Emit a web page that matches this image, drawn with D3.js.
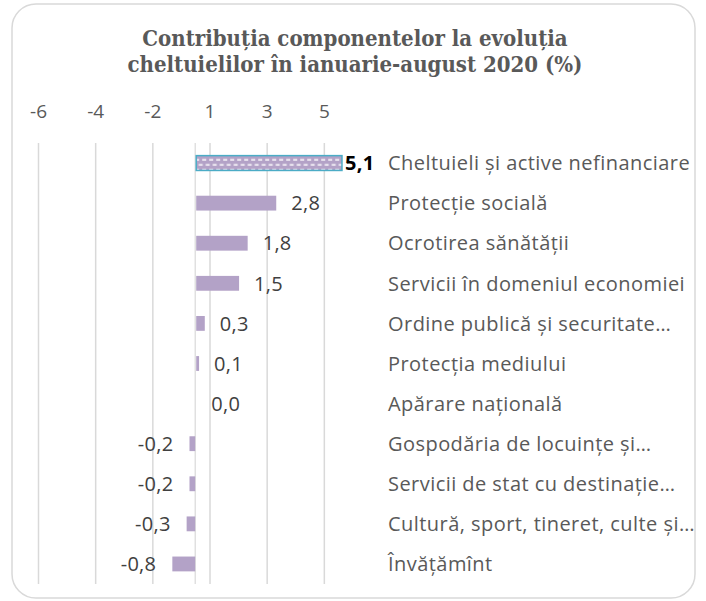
<!DOCTYPE html>
<html>
<head>
<meta charset="utf-8">
<script src="https://cdn.jsdelivr.net/npm/d3@7"></script>
<style>
  body { margin: 0; background: #fff; }
  svg { display: block; }
</style>
</head>
<body>
<svg id="chart" width="706" height="601"></svg>
<script>
// date
const categorii = [
  "Cheltuieli și active nefinanciare",
  "Protecție socială",
  "Ocrotirea sănătății",
  "Servicii în domeniul economiei",
  "Ordine publică și securitate…",
  "Protecția mediului",
  "Apărare națională",
  "Gospodăria de locuințe și…",
  "Servicii de stat cu destinație…",
  "Cultură, sport, tineret, culte și…",
  "Învățămînt"
];
const valori = [5.1, 2.8, 1.8, 1.5, 0.3, 0.1, 0.0, -0.2, -0.2, -0.3, -0.8];
const etichete = ["5,1", "2,8", "1,8", "1,5", "0,3", "0,1", "0,0", "-0,2", "-0,2", "-0,3", "-0,8"];
const tickValori = [-5.5, -3.5, -1.5, 0.5, 2.5, 4.5];
const tickEtichete = ["-6", "-4", "-2", "1", "3", "5"];
const titlu = ["Contribuția componentelor la evoluția", "cheltuielilor în ianuarie-august 2020 (%)"];

const svg = d3.select("#chart");
const font = "'Open Sans', sans-serif";

// chenar rotunjit
svg.append("rect")
  .attr("x", 12).attr("y", 4)
  .attr("width", 683).attr("height", 594)
  .attr("rx", 24).attr("ry", 24)
  .attr("fill", "#fff")
  .attr("stroke", "#d9d9d9")
  .attr("stroke-width", 1.5);

// titlu
svg.append("text")
  .attr("text-anchor", "middle")
  .attr("font-family", "'DejaVu Serif Condensed', 'DejaVu Serif', serif")
  .attr("font-stretch", "condensed")
  .attr("font-weight", "bold")
  .attr("font-size", 22)
  .attr("fill", "#595959")
  .selectAll("tspan")
  .data(titlu)
  .join("tspan")
  .attr("x", 355)
  .attr("y", (d, i) => 46 + i * 26)
  .text(d => d);

// scale
const x = d3.scaleLinear().domain([-5.5, 6.5]).range([38, 381]);
const y = d3.scaleBand().domain(categorii).range([143, 584])
  .paddingInner(0.63).paddingOuter(0.315);

// pattern pentru bara evidentiata
const y0 = y(categorii[0]);
const defs = svg.append("defs");
const pat = defs.append("pattern")
  .attr("id", "hasura")
  .attr("patternUnits", "userSpaceOnUse")
  .attr("width", 7).attr("height", 10)
  .attr("x", x(0)).attr("y", y0);
pat.append("rect").attr("width", 7).attr("height", 10).attr("fill", "#b3a2c7");
pat.append("rect").attr("x", 0).attr("y", 3.5).attr("width", 4).attr("height", 1.5).attr("fill", "#fff");
pat.append("rect").attr("x", 3.5).attr("y", 8.5).attr("width", 3.5).attr("height", 1.5).attr("fill", "#fff");
pat.append("rect").attr("x", 0).attr("y", 8.5).attr("width", 0.5).attr("height", 1.5).attr("fill", "#fff");

// axa de sus cu grila
const axa = svg.append("g")
  .attr("transform", "translate(0,143)")
  .call(d3.axisTop(x)
    .tickValues(tickValori)
    .tickFormat((d, i) => tickEtichete[i])
    .tickSize(-441)
    .tickPadding(25));
axa.select(".domain").remove();
axa.selectAll(".tick line")
  .attr("stroke", "#d9d9d9")
  .attr("stroke-width", 1.5);
axa.selectAll(".tick text")
  .attr("font-family", font)
  .attr("font-size", 19)
  .attr("fill", "#595959");

// linia de zero
svg.append("line")
  .attr("x1", x(0)).attr("x2", x(0))
  .attr("y1", 143).attr("y2", 584)
  .attr("stroke", "#d9d9d9")
  .attr("stroke-width", 1.2);

// bare
svg.append("g")
  .selectAll("rect")
  .data(valori)
  .join("rect")
  .attr("x", d => x(Math.min(0, d)) + (d > 0 ? 1 : 0))
  .attr("y", (d, i) => y(categorii[i]))
  .attr("width", d => Math.abs(x(d) - x(0)))
  .attr("height", y.bandwidth())
  .attr("fill", (d, i) => i === 0 ? "url(#hasura)" : "#b3a2c7")
  .attr("stroke", (d, i) => i === 0 ? "#4bacc6" : "none")
  .attr("stroke-width", 1.5);

// etichete valori
svg.append("g")
  .selectAll("text")
  .data(valori)
  .join("text")
  .attr("x", (d, i) => i === 0 ? x(d) + 4 : (d < 0 ? x(d) - 16 : x(d) + 16))
  .attr("y", (d, i) => y(categorii[i]) + y.bandwidth() / 2)
  .attr("dy", "0.36em")
  .attr("text-anchor", d => d < 0 ? "end" : "start")
  .attr("font-family", font)
  .attr("font-size", 20)
  .attr("letter-spacing", 0.3)
  .attr("font-weight", (d, i) => i === 0 ? "bold" : "normal")
  .attr("fill", (d, i) => i === 0 ? "#000" : "#404040")
  .text((d, i) => etichete[i]);

// etichete categorii
svg.append("g")
  .selectAll("text")
  .data(categorii)
  .join("text")
  .attr("x", 388)
  .attr("y", d => y(d) + y.bandwidth() / 2)
  .attr("dy", "0.36em")
  .attr("font-family", font)
  .attr("font-size", 20)
  .attr("letter-spacing", 0.45)
  .attr("fill", "#595959")
  .text(d => d);
</script>
</body>
</html>
